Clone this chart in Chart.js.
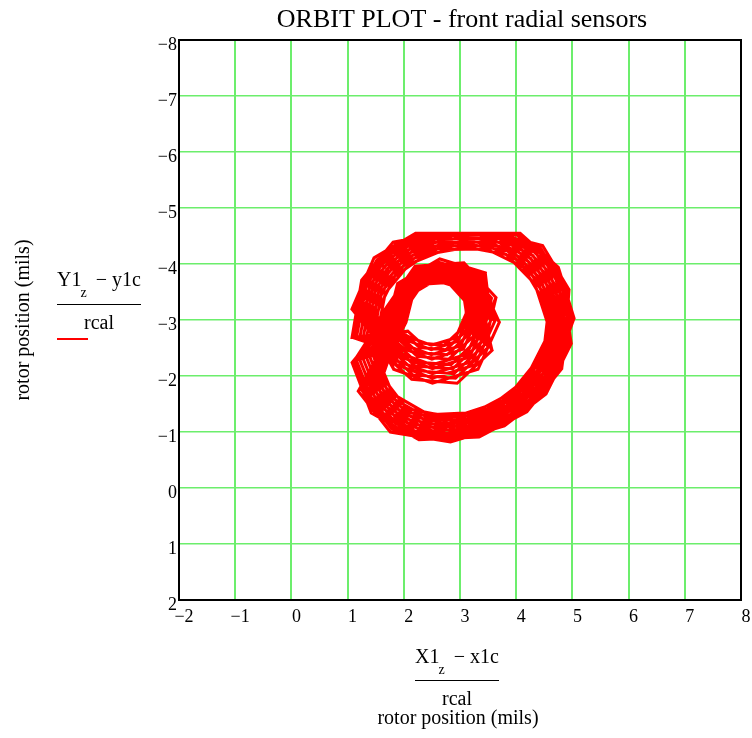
<!DOCTYPE html>
<html>
<head>
<meta charset="utf-8">
<title>Orbit plot</title>
<script src="https://cdn.jsdelivr.net/npm/chart.js@4.4.1/dist/chart.umd.min.js"></script>
<style>
  html, body { margin: 0; padding: 0; background: #ffffff; }
  canvas { display: block; }
</style>
</head>
<body>
<canvas id="orbit" width="752" height="738"></canvas>
<script>
// Chart text
const TITLE = 'ORBIT PLOT - front radial sensors';
const AXIS_UNITS = 'rotor position (mils)';
const Y_EXPR = ['Y1', 'z', ' \u2212 y1c', 'rcal'];
const X_EXPR = ['X1', 'z', ' \u2212 x1c', 'rcal'];

// Axis ranges (mils); vertical axis runs from -8 at the top to 2 at the bottom
const X_RANGE = [-2, 8];
const Y_RANGE = [-8, 2];
const TICK_STEP = 1;

// Calibrated rotor position samples, one row per shaft revolution
// (large whirl followed by the small inner loop)
const xPos = [
  1.28,1.45,1.95,2.70,3.55,4.30,4.72, 4.87,4.45,3.75,2.84,1.82,1.29, 1.84,2.03,2.60,3.22, 3.55,3.22,2.51,1.90,
  1.37,1.74,2.35,3.14,3.88,4.44,4.67, 4.60,4.05,3.30,2.35,1.60,1.28, 1.93,2.29,2.85,3.21, 3.31,2.84,2.22,1.89,
  1.08,1.25,1.81,2.66,3.62,4.47,4.94, 4.87,4.45,3.75,2.84,1.82,1.29, 1.64,1.89,2.64,3.45, 3.55,3.22,2.51,1.90,
  1.13,1.56,2.25,3.16,4.02,4.66,4.93, 4.38,3.90,3.26,2.44,1.80,1.52, 2.04,2.33,2.79,3.08, 3.17,2.77,2.25,1.97,
  1.52,1.67,2.10,2.74,3.47,4.12,4.48, 4.63,4.26,3.65,2.86,1.98,1.51, 1.74,1.96,2.62,3.33, 3.70,3.32,2.51,1.82,
  1.25,1.65,2.30,3.15,3.95,4.55,4.80, 4.81,4.19,3.34,2.27,1.42,1.08, 1.84,2.27,2.93,3.36, 3.44,2.89,2.18,1.79,
  1.40,1.56,2.02,2.72,3.51,4.21,4.60, 4.51,4.16,3.60,2.87,2.05,1.62, 1.93,2.09,2.57,3.09, 3.11,2.92,2.49,2.13,
  1.08,1.47,2.21,3.17,4.07,4.75,5.03, 4.60,4.05,3.30,2.35,1.60,1.28, 1.64,2.20,3.07,3.64, 3.44,2.89,2.18,1.79,
  1.16,1.34,1.88,2.68,3.59,4.39,4.84, 4.98,4.53,3.79,2.83,1.76,1.19, 2.04,2.17,2.56,2.98, 3.25,3.01,2.49,2.05,
  1.50,1.84,2.40,3.13,3.82,4.33,4.55, 4.49,3.98,3.28,2.40,1.70,1.40, 1.74,2.23,3.00,3.50, 3.31,2.84,2.22,1.89,
  1.28,1.45,1.95,2.70,3.55,4.30,4.72, 4.51,4.16,3.60,2.87,2.05,1.62, 1.84,2.03,2.60,3.22, 3.70,3.32,2.51,1.82,
  1.37,1.74,2.35,3.14,3.88,4.44,4.67, 4.71,4.12,3.32,2.30,1.50,1.16, 1.93,2.29,2.85,3.21, 3.05,2.72,2.30,2.07,
  1.08,1.25,1.81,2.66,3.62,4.47,4.94, 4.75,4.35,3.70,2.85,1.90,1.40, 1.74,1.96,2.62,3.33, 3.41,3.12,2.51,1.98,
  1.13,1.56,2.25,3.16,4.02,4.66,4.93, 4.81,4.19,3.34,2.27,1.42,1.08, 2.04,2.33,2.79,3.08, 3.31,2.84,2.22,1.89,
  1.52,1.67,2.10,2.74,3.47,4.12,4.48, 4.87,4.45,3.75,2.84,1.82,1.29, 1.64,1.89,2.64,3.45, 3.25,3.01,2.49,2.05,
  1.25,1.65,2.30,3.15,3.95,4.55,4.80, 4.49,3.98,3.28,2.40,1.70,1.40, 1.84,2.27,2.93,3.36, 3.57,2.95,2.14,1.70,
  1.40,1.56,2.02,2.72,3.51,4.21,4.60, 4.98,4.53,3.79,2.83,1.76,1.19, 1.93,2.09,2.57,3.09, 3.55,3.22,2.51,1.90,
  1.08,1.47,2.21,3.17,4.07,4.75,5.03, 4.38,3.90,3.26,2.44,1.80,1.52, 1.74,2.23,3.00,3.50, 3.17,2.77,2.25,1.97,
  1.16,1.34,1.88,2.68,3.59,4.39,4.84, 4.63,4.26,3.65,2.86,1.98,1.51, 2.04,2.17,2.56,2.98, 3.41,3.12,2.51,1.98,
  1.50,1.84,2.40,3.13,3.82,4.33,4.55, 4.60,4.05,3.30,2.35,1.60,1.28, 1.64,2.20,3.07,3.64, 3.31,2.84,2.22,1.89,
  1.28,1.45,1.95,2.70,3.55,4.30,4.72, 4.98,4.53,3.79,2.83,1.76,1.19, 1.74,1.96,2.62,3.33, 3.25,3.01,2.49,2.05,
  1.37,1.74,2.35,3.14,3.88,4.44,4.67, 4.38,3.90,3.26,2.44,1.80,1.52, 2.04,2.33,2.79,3.08, 3.44,2.89,2.18,1.79,
  1.08,1.25,1.81,2.66,3.62,4.47,4.94, 4.63,4.26,3.65,2.86,1.98,1.51, 1.84,2.03,2.60,3.22, 3.11,2.92,2.49,2.13,
  1.13,1.56,2.25,3.16,4.02,4.66,4.93, 4.60,4.05,3.30,2.35,1.60,1.28, 1.93,2.29,2.85,3.21, 3.57,2.95,2.14,1.70,
  1.52,1.67,2.10,2.74,3.47,4.12,4.48, 4.75,4.35,3.70,2.85,1.90,1.40, 1.64,1.89,2.64,3.45, 3.41,3.12,2.51,1.98,
  1.25,1.65,2.30,3.15,3.95,4.55,4.80, 4.71,4.12,3.32,2.30,1.50,1.16, 1.74,2.23,3.00,3.50, 3.05,2.72,2.30,2.07,
  1.40,1.56,2.02,2.72,3.51,4.21,4.60, 4.75,4.35,3.70,2.85,1.90,1.40, 1.93,2.09,2.57,3.09, 3.41,3.12,2.51,1.98,
  1.08,1.47,2.21,3.17,4.07,4.75,5.03, 4.71,4.12,3.32,2.30,1.50,1.16, 1.84,2.27,2.93,3.36, 3.17,2.77,2.25,1.97,
  1.16,1.34,1.88,2.68,3.59,4.39,4.84, 4.51,4.16,3.60,2.87,2.05,1.62, 1.74,1.96,2.62,3.33, 3.70,3.32,2.51,1.82,
  1.50,1.84,2.40,3.13,3.82,4.33,4.55, 4.81,4.19,3.34,2.27,1.42,1.08, 2.04,2.33,2.79,3.08, 3.57,2.95,2.14,1.70,
  1.34,1.50,1.99,2.71,3.53,4.26,4.66, 4.81,4.40,3.72,2.84,1.86,1.34, 1.89,2.06,2.58,3.15, 3.48,3.17,2.51,1.95,
  1.43,1.79,2.37,3.13,3.85,4.39,4.61, 4.54,4.01,3.29,2.37,1.65,1.34, 1.99,2.31,2.82,3.14, 3.24,2.80,2.24,1.93,
  1.11,1.30,1.85,2.67,3.61,4.43,4.89, 4.57,4.21,3.63,2.87,2.02,1.57, 1.69,1.92,2.63,3.39, 3.32,3.06,2.50,2.02,
  1.19,1.60,2.28,3.16,3.98,4.60,4.86, 4.76,4.16,3.33,2.29,1.46,1.11, 1.79,2.25,2.97,3.43, 3.50,2.92,2.16,1.75,
  1.46,1.61,2.06,2.73,3.49,4.16,4.54, 4.69,4.30,3.68,2.86,1.94,1.46, 1.99,2.13,2.57,3.03, 3.32,3.06,2.50,2.02,
  1.08,1.52,2.23,3.17,4.05,4.71,4.98, 4.66,4.09,3.31,2.33,1.55,1.22, 1.69,2.22,3.04,3.56, 3.38,2.87,2.20,1.85,
  1.22,1.40,1.91,2.69,3.57,4.35,4.78, 4.93,4.49,3.77,2.84,1.79,1.24, 1.79,2.00,2.61,3.27, 3.62,3.27,2.51,1.87,
  1.31,1.70,2.32,3.15,3.92,4.50,4.74, 4.43,3.94,3.27,2.42,1.75,1.46, 1.89,2.28,2.89,3.28, 3.11,2.75,2.28,2.03,
  1.34,1.50,1.99,2.71,3.53,4.26,4.66, 4.57,4.21,3.63,2.87,2.02,1.57, 1.69,1.92,2.63,3.39, 3.48,3.17,2.51,1.95,
  1.19,1.60,2.28,3.16,3.98,4.60,4.86, 4.54,4.01,3.29,2.37,1.65,1.34, 1.99,2.31,2.82,3.14, 3.38,2.87,2.20,1.85,
  1.11,1.30,1.85,2.67,3.61,4.43,4.89, 4.81,4.40,3.72,2.84,1.86,1.34, 1.89,2.06,2.58,3.15, 3.18,2.96,2.49,2.10,
  1.43,1.79,2.37,3.13,3.85,4.39,4.61, 4.76,4.16,3.33,2.29,1.46,1.11, 1.79,2.25,2.97,3.43, 3.24,2.80,2.24,1.93,
  1.46,1.61,2.06,2.73,3.49,4.16,4.54, 4.93,4.49,3.77,2.84,1.79,1.24, 1.79,2.00,2.61,3.27, 3.18,2.96,2.49,2.10,
  1.31,1.70,2.32,3.15,3.92,4.50,4.74, 4.66,4.09,3.31,2.33,1.55,1.22, 1.69,2.22,3.04,3.56, 3.24,2.80,2.24,1.93,
  1.22,1.40,1.91,2.69,3.57,4.35,4.78, 4.69,4.30,3.68,2.86,1.94,1.46, 1.99,2.13,2.57,3.03, 3.62,3.27,2.51,1.87,
  1.08,1.52,2.23,3.17,4.05,4.71,4.98, 4.43,3.94,3.27,2.42,1.75,1.46, 1.89,2.28,2.89,3.28, 3.50,2.92,2.16,1.75,
  1.34,1.50,1.99,2.71,3.53,4.26,4.66, 4.93,4.49,3.77,2.84,1.79,1.24, 1.69,1.92,2.63,3.39, 3.18,2.96,2.49,2.10,
  1.43,1.79,2.37,3.13,3.85,4.39,4.61, 4.66,4.09,3.31,2.33,1.55,1.22, 1.79,2.25,2.97,3.43, 3.11,2.75,2.28,2.03,
  1.11,1.30,1.85,2.67,3.61,4.43,4.89, 4.69,4.30,3.68,2.86,1.94,1.46, 1.79,2.00,2.61,3.27, 3.32,3.06,2.50,2.02,
  1.19,1.60,2.28,3.16,3.98,4.60,4.86, 4.43,3.94,3.27,2.42,1.75,1.46, 1.99,2.31,2.82,3.14, 3.50,2.92,2.16,1.75,
  1.46,1.61,2.06,2.73,3.49,4.16,4.54, 4.81,4.40,3.72,2.84,1.86,1.34, 1.89,2.06,2.58,3.15, 3.62,3.27,2.51,1.87,
  1.31,1.70,2.32,3.15,3.92,4.50,4.74, 4.76,4.16,3.33,2.29,1.46,1.11, 1.69,2.22,3.04,3.56, 3.11,2.75,2.28,2.03,
  1.22,1.40,1.91,2.69,3.57,4.35,4.78, 4.57,4.21,3.63,2.87,2.02,1.57, 1.99,2.13,2.57,3.03, 3.48,3.17,2.51,1.95,
  1.08,1.52,2.23,3.17,4.05,4.71,4.98, 4.54,4.01,3.29,2.37,1.65,1.34, 1.89,2.28,2.89,3.28, 3.38,2.87,2.20,1.85
];
const yPos = [
  -2.70,-3.60,-4.20,-4.50,-4.52,-4.15,-3.45, -2.59,-1.73,-1.20,-0.90,-1.09,-1.79, -2.79,-3.55,-3.89,-3.70, -3.00,-2.26,-2.04,-2.26,
  -3.12,-3.87,-4.28,-4.42,-4.28,-3.73,-2.98, -2.20,-1.52,-1.12,-1.08,-1.50,-2.30, -3.20,-3.72,-3.76,-3.36, -2.65,-2.20,-2.25,-2.56,
  -2.69,-3.71,-4.39,-4.55,-4.55,-4.33,-3.54, -2.59,-1.73,-1.20,-0.90,-1.09,-1.79, -2.65,-3.65,-4.09,-3.84, -3.00,-2.26,-2.04,-2.26,
  -3.18,-4.03,-4.52,-4.55,-4.52,-3.87,-3.02, -2.28,-1.69,-1.35,-1.31,-1.68,-2.36, -3.22,-3.64,-3.67,-3.35, -2.76,-2.38,-2.42,-2.68,
  -2.71,-3.48,-4.00,-4.26,-4.27,-3.95,-3.35, -2.61,-1.87,-1.40,-1.14,-1.31,-1.91, -2.73,-3.61,-3.99,-3.77, -2.96,-2.12,-1.87,-2.12,
  -3.15,-3.95,-4.40,-4.55,-4.40,-3.80,-3.00, -2.13,-1.36,-0.91,-0.86,-1.34,-2.24, -3.17,-3.79,-3.84,-3.36, -2.56,-2.04,-2.10,-2.45,
  -2.70,-3.54,-4.10,-4.38,-4.40,-4.05,-3.40, -2.62,-1.93,-1.50,-1.26,-1.42,-1.98, -2.88,-3.52,-3.80,-3.64, -3.12,-2.68,-2.55,-2.68,
  -3.20,-4.11,-4.55,-4.55,-4.55,-3.94,-3.03, -2.20,-1.52,-1.12,-1.08,-1.50,-2.30, -3.15,-3.96,-4.02,-3.40, -2.56,-2.04,-2.10,-2.45,
  -2.70,-3.66,-4.30,-4.55,-4.55,-4.25,-3.50, -2.58,-1.68,-1.11,-0.82,-1.00,-1.73, -2.96,-3.48,-3.71,-3.58, -3.08,-2.54,-2.38,-2.54,
  -3.09,-3.78,-4.17,-4.30,-4.17,-3.65,-2.97, -2.24,-1.61,-1.23,-1.20,-1.59,-2.33, -3.17,-3.88,-3.94,-3.39, -2.65,-2.20,-2.25,-2.56,
  -2.70,-3.60,-4.20,-4.50,-4.52,-4.15,-3.45, -2.62,-1.93,-1.50,-1.26,-1.42,-1.98, -2.79,-3.55,-3.89,-3.70, -2.96,-2.12,-1.87,-2.12,
  -3.12,-3.87,-4.28,-4.42,-4.28,-3.73,-2.98, -2.16,-1.43,-1.01,-0.96,-1.41,-2.27, -3.20,-3.72,-3.76,-3.36, -2.86,-2.55,-2.59,-2.80,
  -2.69,-3.71,-4.39,-4.55,-4.55,-4.33,-3.54, -2.60,-1.80,-1.30,-1.02,-1.20,-1.85, -2.73,-3.61,-3.99,-3.77, -3.03,-2.39,-2.20,-2.39,
  -3.18,-4.03,-4.52,-4.55,-4.52,-3.87,-3.02, -2.13,-1.36,-0.91,-0.86,-1.34,-2.24, -3.22,-3.64,-3.67,-3.35, -2.65,-2.20,-2.25,-2.56,
  -2.71,-3.48,-4.00,-4.26,-4.27,-3.95,-3.35, -2.59,-1.73,-1.20,-0.90,-1.09,-1.79, -2.65,-3.65,-4.09,-3.84, -3.08,-2.54,-2.38,-2.54,
  -3.15,-3.95,-4.40,-4.55,-4.40,-3.80,-3.00, -2.24,-1.61,-1.23,-1.20,-1.59,-2.33, -3.17,-3.79,-3.84,-3.36, -2.46,-1.87,-1.94,-2.34,
  -2.70,-3.54,-4.10,-4.38,-4.40,-4.05,-3.40, -2.58,-1.68,-1.11,-0.82,-1.00,-1.73, -2.88,-3.52,-3.80,-3.64, -3.00,-2.26,-2.04,-2.26,
  -3.20,-4.11,-4.55,-4.55,-4.55,-3.94,-3.03, -2.28,-1.69,-1.35,-1.31,-1.68,-2.36, -3.17,-3.88,-3.94,-3.39, -2.76,-2.38,-2.42,-2.68,
  -2.70,-3.66,-4.30,-4.55,-4.55,-4.25,-3.50, -2.61,-1.87,-1.40,-1.14,-1.31,-1.91, -2.96,-3.48,-3.71,-3.58, -3.03,-2.39,-2.20,-2.39,
  -3.09,-3.78,-4.17,-4.30,-4.17,-3.65,-2.97, -2.20,-1.52,-1.12,-1.08,-1.50,-2.30, -3.15,-3.96,-4.02,-3.40, -2.65,-2.20,-2.25,-2.56,
  -2.70,-3.60,-4.20,-4.50,-4.52,-4.15,-3.45, -2.58,-1.68,-1.11,-0.82,-1.00,-1.73, -2.73,-3.61,-3.99,-3.77, -3.08,-2.54,-2.38,-2.54,
  -3.12,-3.87,-4.28,-4.42,-4.28,-3.73,-2.98, -2.28,-1.69,-1.35,-1.31,-1.68,-2.36, -3.22,-3.64,-3.67,-3.35, -2.56,-2.04,-2.10,-2.45,
  -2.69,-3.71,-4.39,-4.55,-4.55,-4.33,-3.54, -2.61,-1.87,-1.40,-1.14,-1.31,-1.91, -2.79,-3.55,-3.89,-3.70, -3.12,-2.68,-2.55,-2.68,
  -3.18,-4.03,-4.52,-4.55,-4.52,-3.87,-3.02, -2.20,-1.52,-1.12,-1.08,-1.50,-2.30, -3.20,-3.72,-3.76,-3.36, -2.46,-1.87,-1.94,-2.34,
  -2.71,-3.48,-4.00,-4.26,-4.27,-3.95,-3.35, -2.60,-1.80,-1.30,-1.02,-1.20,-1.85, -2.65,-3.65,-4.09,-3.84, -3.03,-2.39,-2.20,-2.39,
  -3.15,-3.95,-4.40,-4.55,-4.40,-3.80,-3.00, -2.16,-1.43,-1.01,-0.96,-1.41,-2.27, -3.17,-3.88,-3.94,-3.39, -2.86,-2.55,-2.59,-2.80,
  -2.70,-3.54,-4.10,-4.38,-4.40,-4.05,-3.40, -2.60,-1.80,-1.30,-1.02,-1.20,-1.85, -2.88,-3.52,-3.80,-3.64, -3.03,-2.39,-2.20,-2.39,
  -3.20,-4.11,-4.55,-4.55,-4.55,-3.94,-3.03, -2.16,-1.43,-1.01,-0.96,-1.41,-2.27, -3.17,-3.79,-3.84,-3.36, -2.76,-2.38,-2.42,-2.68,
  -2.70,-3.66,-4.30,-4.55,-4.55,-4.25,-3.50, -2.62,-1.93,-1.50,-1.26,-1.42,-1.98, -2.73,-3.61,-3.99,-3.77, -2.96,-2.12,-1.87,-2.12,
  -3.09,-3.78,-4.17,-4.30,-4.17,-3.65,-2.97, -2.13,-1.36,-0.91,-0.86,-1.34,-2.24, -3.22,-3.64,-3.67,-3.35, -2.46,-1.87,-1.94,-2.34,
  -2.70,-3.57,-4.15,-4.44,-4.46,-4.10,-3.43, -2.60,-1.77,-1.25,-0.96,-1.15,-1.82, -2.84,-3.54,-3.84,-3.67, -3.02,-2.34,-2.13,-2.34,
  -3.11,-3.82,-4.23,-4.36,-4.23,-3.69,-2.97, -2.22,-1.56,-1.18,-1.14,-1.54,-2.32, -3.21,-3.68,-3.71,-3.35, -2.71,-2.30,-2.35,-2.63,
  -2.70,-3.69,-4.35,-4.55,-4.55,-4.29,-3.52, -2.62,-1.90,-1.45,-1.20,-1.36,-1.94, -2.69,-3.62,-4.03,-3.80, -3.06,-2.48,-2.30,-2.48,
  -3.16,-3.99,-4.46,-4.55,-4.46,-3.84,-3.01, -2.15,-1.40,-0.96,-0.91,-1.38,-2.26, -3.17,-3.84,-3.89,-3.38, -2.51,-1.96,-2.02,-2.40,
  -2.71,-3.51,-4.05,-4.32,-4.33,-4.00,-3.38, -2.61,-1.83,-1.35,-1.08,-1.25,-1.88, -2.92,-3.50,-3.75,-3.60, -3.06,-2.48,-2.30,-2.48,
  -3.19,-4.07,-4.55,-4.55,-4.55,-3.91,-3.03, -2.18,-1.48,-1.06,-1.02,-1.46,-2.28, -3.16,-3.92,-3.98,-3.39, -2.61,-2.13,-2.18,-2.51,
  -2.70,-3.63,-4.25,-4.55,-4.55,-4.20,-3.47, -2.59,-1.71,-1.16,-0.85,-1.05,-1.76, -2.77,-3.58,-3.94,-3.73, -2.98,-2.20,-1.96,-2.20,
  -3.14,-3.91,-4.34,-4.49,-4.34,-3.76,-2.99, -2.26,-1.65,-1.29,-1.26,-1.63,-2.35, -3.19,-3.76,-3.80,-3.37, -2.81,-2.47,-2.51,-2.74,
  -2.70,-3.57,-4.15,-4.44,-4.46,-4.10,-3.43, -2.62,-1.90,-1.45,-1.20,-1.36,-1.94, -2.69,-3.62,-4.03,-3.80, -3.02,-2.34,-2.13,-2.34,
  -3.16,-3.99,-4.46,-4.55,-4.46,-3.84,-3.01, -2.22,-1.56,-1.18,-1.14,-1.54,-2.32, -3.21,-3.68,-3.71,-3.35, -2.61,-2.13,-2.18,-2.51,
  -2.70,-3.69,-4.35,-4.55,-4.55,-4.29,-3.52, -2.60,-1.77,-1.25,-0.96,-1.15,-1.82, -2.84,-3.54,-3.84,-3.67, -3.10,-2.62,-2.47,-2.62,
  -3.11,-3.82,-4.23,-4.36,-4.23,-3.69,-2.97, -2.15,-1.40,-0.96,-0.91,-1.38,-2.26, -3.17,-3.84,-3.89,-3.38, -2.71,-2.30,-2.35,-2.63,
  -2.71,-3.51,-4.05,-4.32,-4.33,-4.00,-3.38, -2.59,-1.71,-1.16,-0.85,-1.05,-1.76, -2.77,-3.58,-3.94,-3.73, -3.10,-2.62,-2.47,-2.62,
  -3.14,-3.91,-4.34,-4.49,-4.34,-3.76,-2.99, -2.18,-1.48,-1.06,-1.02,-1.46,-2.28, -3.16,-3.92,-3.98,-3.39, -2.71,-2.30,-2.35,-2.63,
  -2.70,-3.63,-4.25,-4.55,-4.55,-4.20,-3.47, -2.61,-1.83,-1.35,-1.08,-1.25,-1.88, -2.92,-3.50,-3.75,-3.60, -2.98,-2.20,-1.96,-2.20,
  -3.19,-4.07,-4.55,-4.55,-4.55,-3.91,-3.03, -2.26,-1.65,-1.29,-1.26,-1.63,-2.35, -3.19,-3.76,-3.80,-3.37, -2.51,-1.96,-2.02,-2.40,
  -2.70,-3.57,-4.15,-4.44,-4.46,-4.10,-3.43, -2.59,-1.71,-1.16,-0.85,-1.05,-1.76, -2.69,-3.62,-4.03,-3.80, -3.10,-2.62,-2.47,-2.62,
  -3.11,-3.82,-4.23,-4.36,-4.23,-3.69,-2.97, -2.18,-1.48,-1.06,-1.02,-1.46,-2.28, -3.17,-3.84,-3.89,-3.38, -2.81,-2.47,-2.51,-2.74,
  -2.70,-3.69,-4.35,-4.55,-4.55,-4.29,-3.52, -2.61,-1.83,-1.35,-1.08,-1.25,-1.88, -2.77,-3.58,-3.94,-3.73, -3.06,-2.48,-2.30,-2.48,
  -3.16,-3.99,-4.46,-4.55,-4.46,-3.84,-3.01, -2.26,-1.65,-1.29,-1.26,-1.63,-2.35, -3.21,-3.68,-3.71,-3.35, -2.51,-1.96,-2.02,-2.40,
  -2.71,-3.51,-4.05,-4.32,-4.33,-4.00,-3.38, -2.60,-1.77,-1.25,-0.96,-1.15,-1.82, -2.84,-3.54,-3.84,-3.67, -2.98,-2.20,-1.96,-2.20,
  -3.14,-3.91,-4.34,-4.49,-4.34,-3.76,-2.99, -2.15,-1.40,-0.96,-0.91,-1.38,-2.26, -3.16,-3.92,-3.98,-3.39, -2.81,-2.47,-2.51,-2.74,
  -2.70,-3.63,-4.25,-4.55,-4.55,-4.20,-3.47, -2.62,-1.90,-1.45,-1.20,-1.36,-1.94, -2.92,-3.50,-3.75,-3.60, -3.02,-2.34,-2.13,-2.34,
  -3.19,-4.07,-4.55,-4.55,-4.55,-3.91,-3.03, -2.22,-1.56,-1.18,-1.14,-1.54,-2.32, -3.19,-3.76,-3.80,-3.37, -2.61,-2.13,-2.18,-2.51
];

const TRACE_COLOR = '#ff0000';
const GRID_COLOR = '#6cee6c';
const SERIF = '"Liberation Serif", "Times New Roman", serif';

const orbitPoints = xPos.map((x, i) => ({ x: x, y: yPos[i] }));

function tickText(v) {
  return v < 0 ? '\u2212' + Math.abs(v) : String(v);
}

// Draws a stacked expression: main + subscript + rest over a rule, denominator below
function drawFraction(ctx, parts, cx, baseTop, ruleY, baseDen) {
  const [main, sub, rest, den] = parts;
  ctx.font = '20px ' + SERIF;
  const w1 = ctx.measureText(main).width;
  const w3 = ctx.measureText(rest).width;
  ctx.font = '14px ' + SERIF;
  const w2 = ctx.measureText(sub).width;
  const gap = 3;
  const total = w1 + w2 + gap + w3;
  const x0 = cx - total / 2;
  ctx.textAlign = 'left';
  ctx.textBaseline = 'alphabetic';
  ctx.font = '20px ' + SERIF;
  ctx.fillText(main, x0, baseTop);
  ctx.font = '14px ' + SERIF;
  ctx.fillText(sub, x0 + w1 - 1, baseTop + 11);
  ctx.font = '20px ' + SERIF;
  ctx.fillText(rest, x0 + w1 + w2 + gap, baseTop);
  ctx.beginPath();
  ctx.lineWidth = 1;
  ctx.strokeStyle = '#000';
  ctx.moveTo(Math.round(x0), ruleY + 0.5);
  ctx.lineTo(Math.round(x0 + total), ruleY + 0.5);
  ctx.stroke();
  ctx.textAlign = 'center';
  ctx.fillText(den, cx, baseDen);
  return x0;
}

const framePlugin = {
  id: 'orbitFrame',
  afterDraw(chart) {
    const ctx = chart.ctx;
    const a = chart.chartArea;
    ctx.save();
    ctx.strokeStyle = '#000';
    ctx.lineWidth = 2;
    ctx.strokeRect(a.left, a.top, a.right - a.left, a.bottom - a.top);

    ctx.fillStyle = '#000';
    ctx.font = '26px ' + SERIF;
    ctx.textAlign = 'center';
    ctx.textBaseline = 'alphabetic';
    ctx.fillText(TITLE, 462, 27);

    ctx.save();
    ctx.translate(29, 320);
    ctx.rotate(-Math.PI / 2);
    ctx.font = '20px ' + SERIF;
    ctx.textAlign = 'center';
    ctx.fillText(AXIS_UNITS, 0, 0);
    ctx.restore();

    const lx = drawFraction(ctx, Y_EXPR, 99, 286, 304, 329);
    ctx.beginPath();
    ctx.strokeStyle = chart.data.datasets[0].borderColor;
    ctx.lineWidth = 2;
    ctx.moveTo(Math.round(lx), 339);
    ctx.lineTo(Math.round(lx) + 31, 339);
    ctx.stroke();

    drawFraction(ctx, X_EXPR, 457, 663, 680, 705);
    ctx.font = '20px ' + SERIF;
    ctx.textAlign = 'center';
    ctx.fillText(AXIS_UNITS, 458, 724);
    ctx.restore();
  }
};

new Chart(document.getElementById('orbit'), {
  type: 'scatter',
  data: {
    datasets: [{
      label: 'rcal',
      data: orbitPoints,
      showLine: true,
      borderColor: TRACE_COLOR,
      backgroundColor: TRACE_COLOR,
      borderWidth: 3,
      pointRadius: 0,
      tension: 0,
      fill: false
    }]
  },
  options: {
    responsive: false,
    animation: false,
    devicePixelRatio: 1,
    layout: { padding: { left: 0, right: 11, top: 40, bottom: 0 } },
    plugins: { legend: { display: false }, tooltip: { enabled: false }, title: { display: false } },
    scales: {
      x: {
        type: 'linear',
        min: X_RANGE[0],
        max: X_RANGE[1],
        border: { display: false },
        grid: { color: GRID_COLOR, lineWidth: 2, drawTicks: false },
        ticks: {
          stepSize: TICK_STEP,
          autoSkip: false,
          maxRotation: 0,
          padding: 6,
          labelOffset: 5,
          color: '#000',
          font: { family: SERIF, size: 18 },
          callback: tickText
        },
        afterFit(scale) {
          scale.height = 138;
          scale.paddingLeft = 0;
          scale.paddingRight = 0;
        }
      },
      y: {
        type: 'linear',
        min: Y_RANGE[0],
        max: Y_RANGE[1],
        reverse: true,
        border: { display: false },
        grid: { color: GRID_COLOR, lineWidth: 1.5, drawTicks: false },
        ticks: {
          stepSize: TICK_STEP,
          autoSkip: false,
          padding: 2,
          labelOffset: 5,
          color: '#000',
          font: { family: SERIF, size: 18 },
          callback: tickText
        },
        afterFit(scale) {
          scale.width = 179;
          scale.paddingTop = 0;
          scale.paddingBottom = 0;
        }
      }
    }
  },
  plugins: [framePlugin]
});
</script>
</body>
</html>
